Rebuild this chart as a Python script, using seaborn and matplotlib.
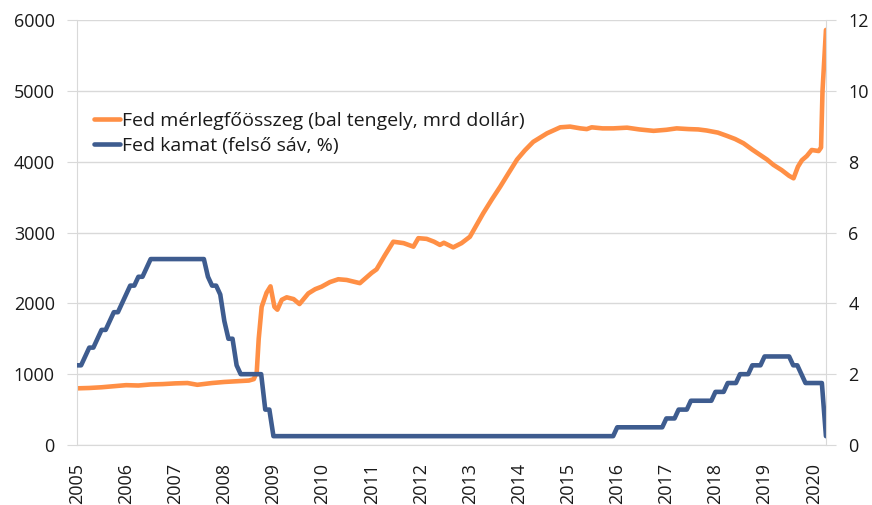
import matplotlib
matplotlib.use('Agg')
import matplotlib.pyplot as plt
import seaborn as sns

# Fed balance sheet total, bn USD
bs_year = [2005.00, 2005.25, 2005.50, 2005.75, 2006.00, 2006.25, 2006.50, 2006.75,
           2007.00, 2007.25, 2007.45, 2007.75, 2008.00, 2008.25, 2008.50, 2008.60,
           2008.66, 2008.70, 2008.76, 2008.86, 2008.94, 2009.02, 2009.08, 2009.17,
           2009.27, 2009.41, 2009.53, 2009.71, 2009.85, 2009.98, 2010.15, 2010.32,
           2010.49, 2010.76, 2011.00, 2011.10, 2011.27, 2011.44, 2011.65, 2011.85,
           2011.95, 2012.12, 2012.27, 2012.39, 2012.47, 2012.66, 2012.83, 2013.00,
           2013.27, 2013.45, 2013.62, 2013.78, 2013.96, 2014.12, 2014.29, 2014.57,
           2014.84, 2015.04, 2015.25, 2015.38, 2015.48, 2015.70, 2015.92, 2016.20,
           2016.45, 2016.74, 2017.00, 2017.21, 2017.45, 2017.65, 2017.82, 2018.05,
           2018.23, 2018.40, 2018.57, 2018.75, 2018.91, 2019.05, 2019.18, 2019.35,
           2019.50, 2019.59, 2019.68, 2019.76, 2019.86, 2019.96, 2020.10, 2020.15,
           2020.18, 2020.25]
bs_value = [800, 805, 815, 830, 845, 840, 855, 860,
            870, 875, 850, 875, 890, 900, 910, 930,
            1030, 1500, 1950, 2150, 2240, 1950, 1910, 2050,
            2085, 2060, 1990, 2140, 2200, 2235, 2300, 2340,
            2330, 2285, 2430, 2480, 2680, 2870, 2850, 2800,
            2920, 2910, 2870, 2825, 2855, 2790, 2850, 2940,
            3270, 3470, 3650, 3830, 4030, 4160, 4280, 4400,
            4485, 4495, 4470, 4460, 4485, 4470, 4470, 4480,
            4455, 4435, 4450, 4470, 4460, 4455, 4440, 4410,
            4365, 4320, 4260, 4170, 4095, 4030, 3955, 3880,
            3800, 3765, 3930, 4020, 4080, 4165, 4150, 4200,
            5000, 5860]

# Fed funds target, upper bound (%), value at the start of each month
rate_2005 = [2.25, 2.25, 2.5, 2.75, 2.75, 3.0, 3.25, 3.25, 3.5, 3.75, 3.75, 4.0]
rate_2006 = [4.25, 4.5, 4.5, 4.75, 4.75, 5.0, 5.25, 5.25, 5.25, 5.25, 5.25, 5.25]
rate_2007 = [5.25, 5.25, 5.25, 5.25, 5.25, 5.25, 5.25, 5.25, 4.75, 4.5, 4.5, 4.25]
rate_2008 = [3.5, 3.0, 3.0, 2.25, 2.0, 2.0, 2.0, 2.0, 2.0, 2.0, 1.0, 1.0]
rate_2009_2015 = [0.25] * 84
rate_2016 = [0.5] * 12
rate_2017 = [0.75, 0.75, 0.75, 1.0, 1.0, 1.0, 1.25, 1.25, 1.25, 1.25, 1.25, 1.25]
rate_2018 = [1.5, 1.5, 1.5, 1.75, 1.75, 1.75, 2.0, 2.0, 2.0, 2.25, 2.25, 2.25]
rate_2019 = [2.5, 2.5, 2.5, 2.5, 2.5, 2.5, 2.5, 2.25, 2.25, 2.0, 1.75, 1.75]
rate_2020 = [1.75, 1.75, 1.75, 0.25]

rate_value = (rate_2005 + rate_2006 + rate_2007 + rate_2008 + rate_2009_2015
              + rate_2016 + rate_2017 + rate_2018 + rate_2019 + rate_2020)
rate_year = [2005 + i / 12 for i in range(len(rate_value))]

years = list(range(2005, 2021))
label_bs = 'Fed mérlegfőösszeg (bal tengely, mrd dollár)'
label_rate = 'Fed kamat (felső sáv, %)'

orange = '#FF8F45'
blue = '#3E5C8F'
grey = '#D9D9D9'
txt = '#1a1a1a'

sns.set_style('white')
plt.rcParams['font.family'] = ['Open Sans', 'DejaVu Sans']
plt.rcParams['text.color'] = txt

fig = plt.figure(figsize=(8.72, 5.05), dpi=100)
ax = fig.add_axes([0.0883, 0.1188, 0.8589, 0.8416])
ax2 = ax.twinx()

sns.lineplot(x=bs_year, y=bs_value, ax=ax, color=orange, lw=3.3, legend=False)
sns.lineplot(x=rate_year, y=rate_value, ax=ax2, color=blue, lw=3.3, legend=False)

ax.set_xlim(2005, 2020.25)
ax.set_ylim(0, 6000)
ax2.set_ylim(0, 12)
ax.set_xticks(years)
ax.set_xticklabels([str(y) for y in years], rotation=90)
ax.set_yticks(range(0, 6001, 1000))
ax2.set_yticks(range(0, 13, 2))
ax.set_xlabel('')
ax.set_ylabel('')
ax2.set_ylabel('')

ax.yaxis.grid(True, color=grey, lw=1)
ax.xaxis.grid(False)
ax2.grid(False)
ax.set_axisbelow(True)

for s in ['top', 'right']:
    ax.spines[s].set_visible(False)
for s in ['top', 'left', 'bottom']:
    ax2.spines[s].set_visible(False)
for s in ['left', 'bottom']:
    ax.spines[s].set_color(grey)
ax2.spines['right'].set_color(grey)

ax.tick_params(axis='y', length=7, color=grey, pad=9, labelsize=13, labelcolor=txt)
ax.tick_params(axis='x', length=7, color=grey, pad=6, labelsize=13, labelcolor=txt)
ax2.tick_params(axis='y', length=7, color=grey, pad=9, labelsize=13, labelcolor=txt)

handles = [ax.get_lines()[0], ax2.get_lines()[0]]
ax2.legend(handles, [label_bs, label_rate], loc='upper left',
           bbox_to_anchor=(0.012, 0.803), borderaxespad=0, frameon=False,
           handlelength=1.35, handletextpad=0.1, labelspacing=0.4, fontsize=14)

fig.savefig('out.png', dpi=100)
